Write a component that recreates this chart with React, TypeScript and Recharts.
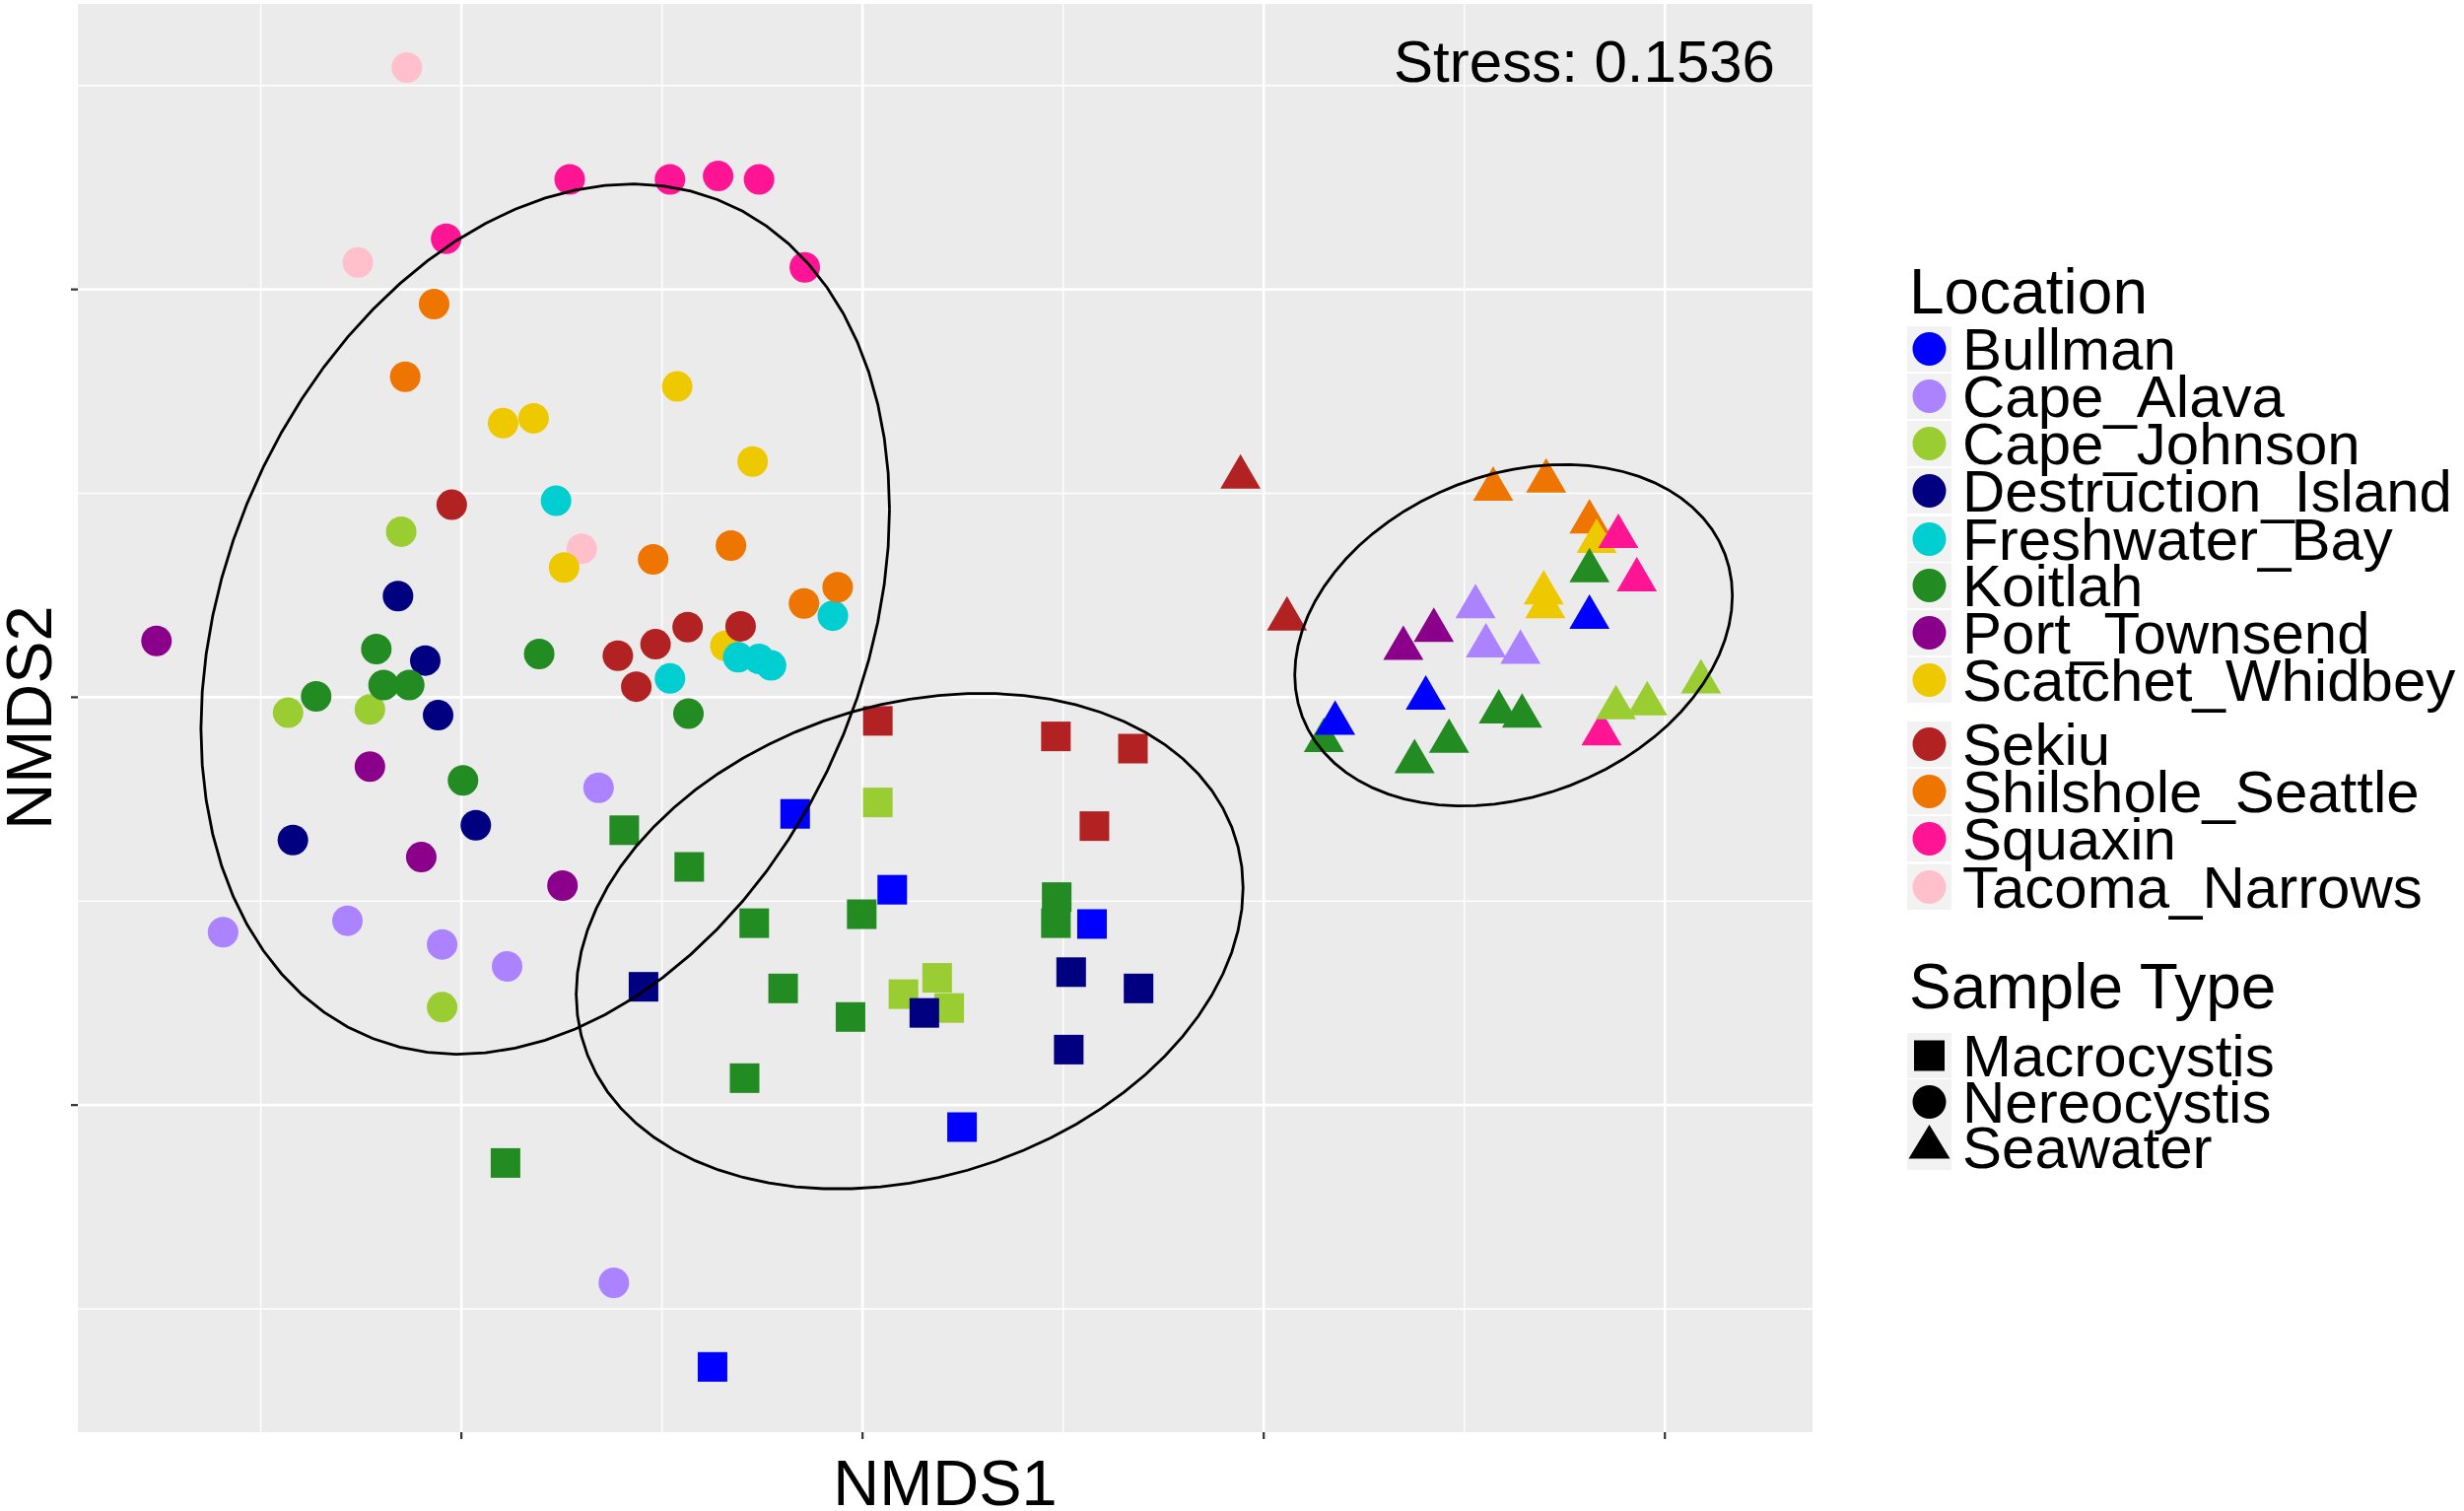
import React from "react";
import { ScatterChart, Scatter, XAxis, YAxis, CartesianGrid } from "recharts";

const W = 2500;
const H = 1533;
const FONT = '"Liberation Sans", Arial, Helvetica, sans-serif';

const locations = [
  "Bullman",
  "Cape_Alava",
  "Cape_Johnson",
  "Destruction_Island",
  "Freshwater_Bay",
  "Koitlah",
  "Port_Townsend",
  "Scatchet_Whidbey",
  "Sekiu",
  "Shilshole_Seattle",
  "Squaxin",
  "Tacoma_Narrows",
];
const locationColors = [
  "#0000FF",
  "#AB82FF",
  "#9ACD32",
  "#000080",
  "#00CED1",
  "#228B22",
  "#8B008B",
  "#EEC900",
  "#B22222",
  "#EE7600",
  "#FF1493",
  "#FFC0CB",
];
const sampleTypes = ["Macrocystis", "Nereocystis", "Seawater"];

const xMajor = [-0.5, 0, 0.5, 1];
const xMinor = [-0.75, -0.25, 0.25, 0.75];
const yMajor = [-0.5, 0, 0.5];
const yMinor = [-0.75, -0.25, 0.25, 0.75];
const X_DOMAIN: [number, number] = [-0.978, 1.184];
const Y_DOMAIN: [number, number] = [-0.901, 0.85];

const stressLabel = "Stress: 0.1536";

// [location, NMDS1, NMDS2]
const nereocystis: [string, number, number][] = [
  ["Cape_Alava", -0.797, -0.288],
  ["Cape_Alava", -0.642, -0.274],
  ["Cape_Alava", -0.524, -0.303],
  ["Cape_Alava", -0.443, -0.33],
  ["Cape_Alava", -0.329, -0.111],
  ["Cape_Alava", -0.31, -0.718],
  ["Cape_Johnson", -0.575, 0.203],
  ["Cape_Johnson", -0.716, -0.019],
  ["Cape_Johnson", -0.614, -0.015],
  ["Cape_Johnson", -0.524, -0.38],
  ["Destruction_Island", -0.579, 0.124],
  ["Destruction_Island", -0.545, 0.045],
  ["Destruction_Island", -0.529, -0.022],
  ["Destruction_Island", -0.71, -0.175],
  ["Destruction_Island", -0.482, -0.157],
  ["Koitlah", -0.606, 0.059],
  ["Koitlah", -0.597, 0.015],
  ["Koitlah", -0.565, 0.015],
  ["Koitlah", -0.681, 0.001],
  ["Koitlah", -0.403, 0.053],
  ["Koitlah", -0.217, -0.02],
  ["Koitlah", -0.498, -0.102],
  ["Port_Townsend", -0.88, 0.069],
  ["Port_Townsend", -0.614, -0.085],
  ["Port_Townsend", -0.55, -0.196],
  ["Port_Townsend", -0.374, -0.231],
  ["Tacoma_Narrows", -0.568, 0.772],
  ["Tacoma_Narrows", -0.629, 0.533],
  ["Tacoma_Narrows", -0.35, 0.182],
  ["Scatchet_Whidbey", -0.231, 0.381],
  ["Scatchet_Whidbey", -0.448, 0.336],
  ["Scatchet_Whidbey", -0.41, 0.342],
  ["Scatchet_Whidbey", -0.137, 0.289],
  ["Scatchet_Whidbey", -0.372, 0.159],
  ["Scatchet_Whidbey", -0.171, 0.063],
  ["Sekiu", -0.512, 0.236],
  ["Sekiu", -0.305, 0.051],
  ["Sekiu", -0.258, 0.065],
  ["Sekiu", -0.218, 0.086],
  ["Sekiu", -0.152, 0.087],
  ["Sekiu", -0.282, 0.013],
  ["Freshwater_Bay", -0.382, 0.241],
  ["Freshwater_Bay", -0.037, 0.1],
  ["Freshwater_Bay", -0.155, 0.049],
  ["Freshwater_Bay", -0.129, 0.047],
  ["Freshwater_Bay", -0.114, 0.039],
  ["Freshwater_Bay", -0.24, 0.023],
  ["Shilshole_Seattle", -0.534, 0.482],
  ["Shilshole_Seattle", -0.57, 0.393],
  ["Shilshole_Seattle", -0.261, 0.169],
  ["Shilshole_Seattle", -0.164, 0.186],
  ["Shilshole_Seattle", -0.073, 0.115],
  ["Shilshole_Seattle", -0.031, 0.135],
  ["Squaxin", -0.365, 0.635],
  ["Squaxin", -0.24, 0.635],
  ["Squaxin", -0.18, 0.639],
  ["Squaxin", -0.129, 0.635],
  ["Squaxin", -0.519, 0.562],
  ["Squaxin", -0.072, 0.527],
];

const macrocystis: [string, number, number][] = [
  ["Sekiu", 0.019, -0.029],
  ["Sekiu", 0.241, -0.048],
  ["Sekiu", 0.337, -0.063],
  ["Sekiu", 0.289, -0.158],
  ["Bullman", -0.084, -0.143],
  ["Bullman", 0.037, -0.236],
  ["Bullman", 0.286, -0.278],
  ["Bullman", 0.124, -0.527],
  ["Bullman", -0.187, -0.821],
  ["Koitlah", -0.297, -0.163],
  ["Koitlah", -0.216, -0.208],
  ["Koitlah", -0.135, -0.277],
  ["Koitlah", -0.001, -0.266],
  ["Koitlah", 0.242, -0.245],
  ["Koitlah", 0.241, -0.277],
  ["Koitlah", -0.099, -0.357],
  ["Koitlah", -0.015, -0.392],
  ["Koitlah", -0.147, -0.467],
  ["Koitlah", -0.445, -0.571],
  ["Cape_Johnson", 0.019, -0.129],
  ["Cape_Johnson", 0.051, -0.364],
  ["Cape_Johnson", 0.093, -0.344],
  ["Cape_Johnson", 0.108, -0.381],
  ["Destruction_Island", 0.26, -0.337],
  ["Destruction_Island", 0.344, -0.357],
  ["Destruction_Island", -0.273, -0.355],
  ["Destruction_Island", 0.077, -0.387],
  ["Destruction_Island", 0.257, -0.432],
];

const seawater: [string, number, number][] = [
  ["Sekiu", 0.471, 0.27],
  ["Sekiu", 0.529, 0.096],
  ["Shilshole_Seattle", 0.786, 0.255],
  ["Shilshole_Seattle", 0.852, 0.265],
  ["Shilshole_Seattle", 0.906, 0.215],
  ["Scatchet_Whidbey", 0.915, 0.191],
  ["Scatchet_Whidbey", 0.849, 0.128],
  ["Scatchet_Whidbey", 0.851, 0.111],
  ["Squaxin", 0.942, 0.197],
  ["Squaxin", 0.965, 0.144],
  ["Squaxin", 0.921, -0.045],
  ["Koitlah", 0.906, 0.155],
  ["Koitlah", 0.575, -0.053],
  ["Koitlah", 0.793, -0.018],
  ["Koitlah", 0.822, -0.023],
  ["Koitlah", 0.731, -0.054],
  ["Koitlah", 0.688, -0.079],
  ["Cape_Alava", 0.764, 0.111],
  ["Cape_Alava", 0.777, 0.063],
  ["Cape_Alava", 0.82, 0.055],
  ["Port_Townsend", 0.712, 0.082],
  ["Port_Townsend", 0.674, 0.06],
  ["Bullman", 0.906, 0.098],
  ["Bullman", 0.702, -0.001],
  ["Bullman", 0.589, -0.032],
  ["Cape_Johnson", 0.939, -0.013],
  ["Cape_Johnson", 0.978, -0.008],
  ["Cape_Johnson", 1.045, 0.019],
];

// stat_ellipse outlines: centre x, centre y, half-width, y shift at the rightmost point, remaining y radius
const ellipseNereocystis = [-0.3955, 0.0958, 0.4291, 0.1344, 0.5163];
const ellipseMacrocystis = [0.0587, -0.299, 0.4156, 0.0653, 0.2967];
const ellipseSeawater = [0.8114, 0.076, 0.2727, 0.0486, 0.2036];

const colorOf: Record<string, string> = Object.fromEntries(
  locations.map((l, i) => [l, locationColors[i]])
);

const toRows = (rows: [string, number, number][], type: string) =>
  rows.map(([loc, x, y]) => ({ loc, x, y, type }));

function outline([cx, cy, a, b, c]: number[]) {
  const pts = [];
  for (let i = 0; i <= 72; i++) {
    const t = (i / 72) * 2 * Math.PI;
    pts.push({ x: cx + a * Math.cos(t), y: cy + b * Math.cos(t) + c * Math.sin(t) });
  }
  return pts;
}

function PointShape(props: any) {
  const { cx, cy, payload } = props;
  if (cx == null || cy == null) return <g />;
  const fill = colorOf[payload.loc];
  if (payload.type === "Macrocystis")
    return <rect x={cx - 15} y={cy - 15} width={30} height={30} fill={fill} />;
  if (payload.type === "Seawater")
    return (
      <polygon
        points={`${cx},${cy - 23.3} ${cx + 20.4},${cy + 11.7} ${cx - 20.4},${cy + 11.7}`}
        fill={fill}
      />
    );
  return <circle cx={cx} cy={cy} r={15.5} fill={fill} />;
}

const noShape = () => <g />;

function LegendKeyShape({ type, x, y }: { type: string; x: number; y: number }) {
  if (type === "Macrocystis") return <rect x={x - 15.5} y={y - 15.5} width={31} height={31} fill="#000" />;
  if (type === "Seawater")
    return <polygon points={`${x},${y - 23} ${x + 21},${y + 11.5} ${x - 21},${y + 11.5}`} fill="#000" />;
  return <circle cx={x} cy={y} r={17} fill="#000" />;
}

function Overlay() {
  const locRows = [354, 402, 450, 498, 547, 594, 642, 690, 755, 803, 851, 900];
  const typeRows = [1071, 1118, 1164];
  const keyX = 1935;
  const labelX = 1991;
  return (
    <svg
      width={W}
      height={H}
      style={{ position: "absolute", left: 0, top: 0, pointerEvents: "none" }}
      fontFamily={FONT}
    >
      <text x={1801} y={83} fontSize={60} textAnchor="end" fill="#000">
        {stressLabel}
      </text>
      <text x={959} y={1527} fontSize={65} textAnchor="middle" fill="#000">
        NMDS1
      </text>
      <text
        x={52}
        y={728}
        fontSize={65}
        textAnchor="middle"
        fill="#000"
        transform="rotate(-90 52 728)"
      >
        NMDS2
      </text>

      <text x={1937} y={318} fontSize={64} fill="#000">
        Location
      </text>
      {locations.map((loc, i) => (
        <g key={loc}>
          <rect x={keyX} y={locRows[i] - 23} width={45} height={46} fill="#F2F2F2" />
          <ellipse cx={keyX + 22.5} cy={locRows[i]} rx={17} ry={17} fill={locationColors[i]} />
          <text x={labelX} y={locRows[i] + 21} fontSize={60} fill="#000">
            {loc}
          </text>
        </g>
      ))}

      <text x={1937} y={1023} fontSize={64} fill="#000">
        Sample Type
      </text>
      {sampleTypes.map((t, i) => (
        <g key={t}>
          <rect x={keyX} y={typeRows[i] - 23} width={45} height={46} fill="#F2F2F2" />
          <LegendKeyShape type={t} x={keyX + 22.5} y={typeRows[i]} />
          <text x={labelX} y={typeRows[i] + 21} fontSize={60} fill="#000">
            {t}
          </text>
        </g>
      ))}
    </svg>
  );
}

export default function App() {
  const ellipseLine = { stroke: "#000", strokeWidth: 2.8, fill: "none" };
  return (
    <div style={{ position: "absolute", left: 0, top: 0, width: W, height: H, background: "#fff" }}>
      <ScatterChart
        width={W}
        height={H}
        margin={{ top: 4, right: 661, bottom: 50, left: 49 }}
      >
        <CartesianGrid
          fill="#EBEBEB"
          stroke="#FFFFFF"
          strokeWidth={1.4}
          verticalValues={xMinor}
          horizontalValues={yMinor}
        />
        <CartesianGrid
          stroke="#FFFFFF"
          strokeWidth={2.6}
          verticalValues={xMajor}
          horizontalValues={yMajor}
        />
        <XAxis
          type="number"
          dataKey="x"
          domain={X_DOMAIN}
          ticks={xMajor}
          allowDataOverflow
          tickFormatter={() => ""}
          axisLine={false}
          tickSize={7}
          tickLine={{ stroke: "#333333", strokeWidth: 2.2 }}
          height={30}
        />
        <YAxis
          type="number"
          dataKey="y"
          domain={Y_DOMAIN}
          ticks={yMajor}
          allowDataOverflow
          tickFormatter={() => ""}
          axisLine={false}
          tickSize={7}
          tickLine={{ stroke: "#333333", strokeWidth: 2.2 }}
          width={30}
        />
        <Scatter data={toRows(nereocystis, "Nereocystis")} shape={PointShape} isAnimationActive={false} />
        <Scatter data={toRows(macrocystis, "Macrocystis")} shape={PointShape} isAnimationActive={false} />
        <Scatter data={toRows(seawater, "Seawater")} shape={PointShape} isAnimationActive={false} />
        <Scatter data={outline(ellipseNereocystis)} line={ellipseLine} lineType="joint" shape={noShape} isAnimationActive={false} />
        <Scatter data={outline(ellipseMacrocystis)} line={ellipseLine} lineType="joint" shape={noShape} isAnimationActive={false} />
        <Scatter data={outline(ellipseSeawater)} line={ellipseLine} lineType="joint" shape={noShape} isAnimationActive={false} />
      </ScatterChart>
      <Overlay />
    </div>
  );
}
